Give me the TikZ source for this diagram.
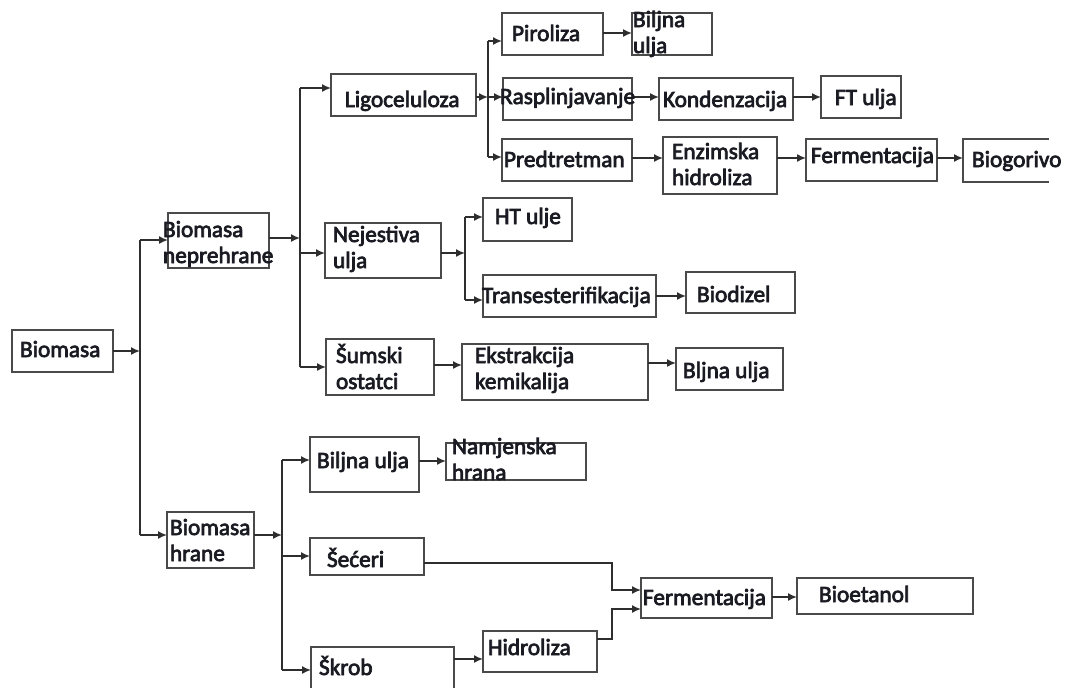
\documentclass[tikz,border=0pt]{standalone}
\usepackage{fontspec}
\setmainfont{Carlito}[FakeBold=3]
\usetikzlibrary{arrows.meta,calc}
\definecolor{boxc}{HTML}{4A4A4A}
\definecolor{linec}{HTML}{2E2E2E}
\definecolor{txtc}{HTML}{1A1A22}
\newcommand\bx[6][]{\node[box,#1,anchor=north west,minimum width={#5-#3},minimum height={#6-#4}] (#2) at (#3,#4) {};}
\newcommand\tx[4]{\node[lab] (#1) at (#2,#3) {#4};}
\begin{document}
\begin{tikzpicture}[x=1pt,y=-1pt,
  box/.style={draw=boxc,line width=1.8pt,inner sep=0pt,outer sep=0pt,fill=white},
  openbox/.style={draw=none,fill=white},
  lab/.style={anchor=base west,inner sep=0pt,outer sep=0pt,text=txtc,align=left,font=\fontsize{23.3}{26}\selectfont},
  line/.style={draw=linec,line width=1.6pt},
  arr/.style={line,-{Latex[length=9pt,width=8pt]}}]
\useasboundingbox[fill=white] (0,0) rectangle (1072,688);

% ---------- boxes ----------
\bx{bio}{12}{330}{113}{372}
\bx{nep}{168}{213}{269}{268}
\bx{hra}{167}{512}{254}{568}
\bx{lig}{331}{74}{476}{116}
\bx{pir}{502}{13}{603}{55}
\bx{bu1}{632}{13}{712}{55}
\bx{ras}{503}{78}{632}{120}
\bx{kon}{659}{78}{793}{120}
\bx{ftu}{821}{76}{901}{118}
\bx{pre}{502}{139}{632}{181}
\bx{enz}{663}{137}{777}{194}
\bx{fe1}{806}{139}{937}{181}
\bx[openbox]{bgo}{963}{139}{1049}{182}
\draw[draw=boxc,line width=1.8pt] (bgo.north east) -- (bgo.north west) -- (bgo.south west) -- (bgo.south east);
\bx{nej}{325}{223}{441}{278}
\bx{htu}{483}{198}{572}{241}
\bx{tra}{483}{275}{656}{317}
\bx{bdz}{686}{272}{795}{313}
\bx{sum}{326}{339}{434}{395}
\bx{eks}{462}{344}{648}{400}
\bx{blj}{676}{348}{783}{390}
\bx{bu2}{310}{437}{419}{492}
\bx{nam}{446}{443}{586}{480}
\bx{sec}{310}{538}{424}{575}
\bx[openbox]{skr}{311}{647}{454}{690}
\draw[draw=boxc,line width=1.8pt] (skr.south west) -- (skr.north west) -- (skr.north east) -- (skr.south east);
\bx{hid}{483}{631}{597}{672}
\bx{fe2}{641}{578}{772}{618}
\bx{bet}{797}{578}{973}{614}

% ---------- junction coordinates ----------
\coordinate (A0) at (140,351);
\coordinate (A1) at (140,240);
\coordinate (A2) at (140,535);
\coordinate (B0) at (300,238);
\coordinate (B1) at (300,88);
\coordinate (B2) at (300,253);
\coordinate (B3) at (300,367);
\coordinate (C0) at (488,97);
\coordinate (C1) at (488,41);
\coordinate (C2) at (488,157);
\coordinate (D0) at (465,253);
\coordinate (D1) at (465,217);
\coordinate (D2) at (465,300);
\coordinate (E0) at (282,535);
\coordinate (E1) at (282,460);
\coordinate (E2) at (282,556);
\coordinate (E3) at (282,670);
\coordinate (F1) at (612,563);
\coordinate (F2) at (612,639);
\coordinate (G1) at (612,590);
\coordinate (G2) at (612,609);

% ---------- connectors ----------
\draw[arr] (bio.east |- A0) -- (A0);
\draw[line] (A1) -- (A2);
\draw[arr] (A1) -- (nep.west |- A1);
\draw[arr] (A2) -- (hra.west |- A2);

\draw[arr] (nep.east |- B0) -- (B0);
\draw[line] (B1) -- (B3);
\draw[arr] (B1) -- (lig.west |- B1);
\draw[arr] (B2) -- (nej.west |- B2);
\draw[arr] (B3) -- (sum.west |- B3);

\draw[arr] (lig.east |- C0) -- (C0);
\draw[line] (C1) -- (C2);
\draw[arr] (C1) -- (pir.west |- C1);
\draw[arr] (C0) -- (ras.west |- C0);
\draw[arr] (C2) -- (pre.west |- C2);
\draw[arr] (pir.east |- 0,33) -- (bu1.west |- 0,33);
\draw[arr] (ras.east |- C0) -- (kon.west |- C0);
\draw[arr] (kon.east |- C0) -- (ftu.west |- C0);
\draw[arr] (pre.east |- 0,158) -- (enz.west |- 0,158);
\draw[arr] (enz.east |- 0,158) -- (fe1.west |- 0,158);
\draw[arr] (fe1.east |- 0,158) -- (bgo.west |- 0,158);

\draw[arr] (nej.east |- D0) -- (D0);
\draw[line] (D1) -- (D2);
\draw[arr] (D1) -- (htu.west |- D1);
\draw[arr] (D2) -- (tra.west |- D2);
\draw[arr] (tra.east |- 0,296) -- (bdz.west |- 0,296);
\draw[arr] (sum.east |- 0,365) -- (eks.west |- 0,365);
\draw[arr] (eks.east |- 0,363) -- (blj.west |- 0,363);

\draw[arr] (hra.east |- E0) -- (E0);
\draw[line] (E1) -- (E3);
\draw[arr] (E1) -- (bu2.west |- E1);
\draw[arr] (E2) -- (sec.west |- E2);
\draw[arr] (E3) -- (skr.west |- E3);
\draw[arr] (bu2.east |- 0,461) -- (nam.west |- 0,461);
\draw[arr] (skr.east |- 0,659) -- (hid.west |- 0,659);
\draw[arr] (sec.east |- F1) -- (F1) -- (G1) -- (fe2.west |- G1);
\draw[arr] (hid.east |- F2) -- (F2) -- (G2) -- (fe2.west |- G2);
\draw[arr] (fe2.east |- 0,597) -- (bet.west |- 0,597);

% ---------- texts (base = baseline of last line) ----------
\tx{tbio}{20}{357}{Biomasa}
\tx{tnep}{163}{263}{Biomasa\\neprehrane}
\tx{thra}{170}{561}{Biomasa\\hrane}
\tx{tlig}{345}{107}{Ligoceluloza}
\tx{tpir}{512}{41}{Piroliza}
\tx{tbu1}{633}{53}{Biljna\\ulja}
\tx{tras}{500}{104}{Rasplinjavanje}
\tx{tkon}{663}{107}{Kondenzacija}
\tx{tftu}{835}{105}{FT ulja}
\tx{tpre}{504}{167}{Predtretman}
\tx{tenz}{672}{185}{Enzimska\\hidroliza}
\tx{tfe1}{811}{163}{Fermentacija}
\tx{tbgo}{972}{167}{Biogorivo}
\tx{tnej}{333}{268}{Nejestiva\\ulja}
\tx{thtu}{495}{224}{HT ulje}
\tx{ttra}{482}{303}{Transesterifikacija}
\tx{tbdz}{697}{302}{Biodizel}
\tx{tsum}{336}{389}{Šumski\\ostatci}
\tx{teks}{475}{389}{Ekstrakcija\\kemikalija}
\tx{tblj}{683}{378}{Bljna ulja}
\tx{tbu2}{317}{468}{Biljna ulja}
\tx{tnam}{452}{480}{Namjenska\\hrana}
\tx{tsec}{327}{567}{Šećeri}
\tx{tskr}{319}{675}{Škrob}
\tx{thid}{488}{655}{Hidroliza}
\tx{tfe2}{643}{605}{Fermentacija}
\tx{tbet}{819}{602}{Bioetanol}
\end{tikzpicture}
\end{document}
